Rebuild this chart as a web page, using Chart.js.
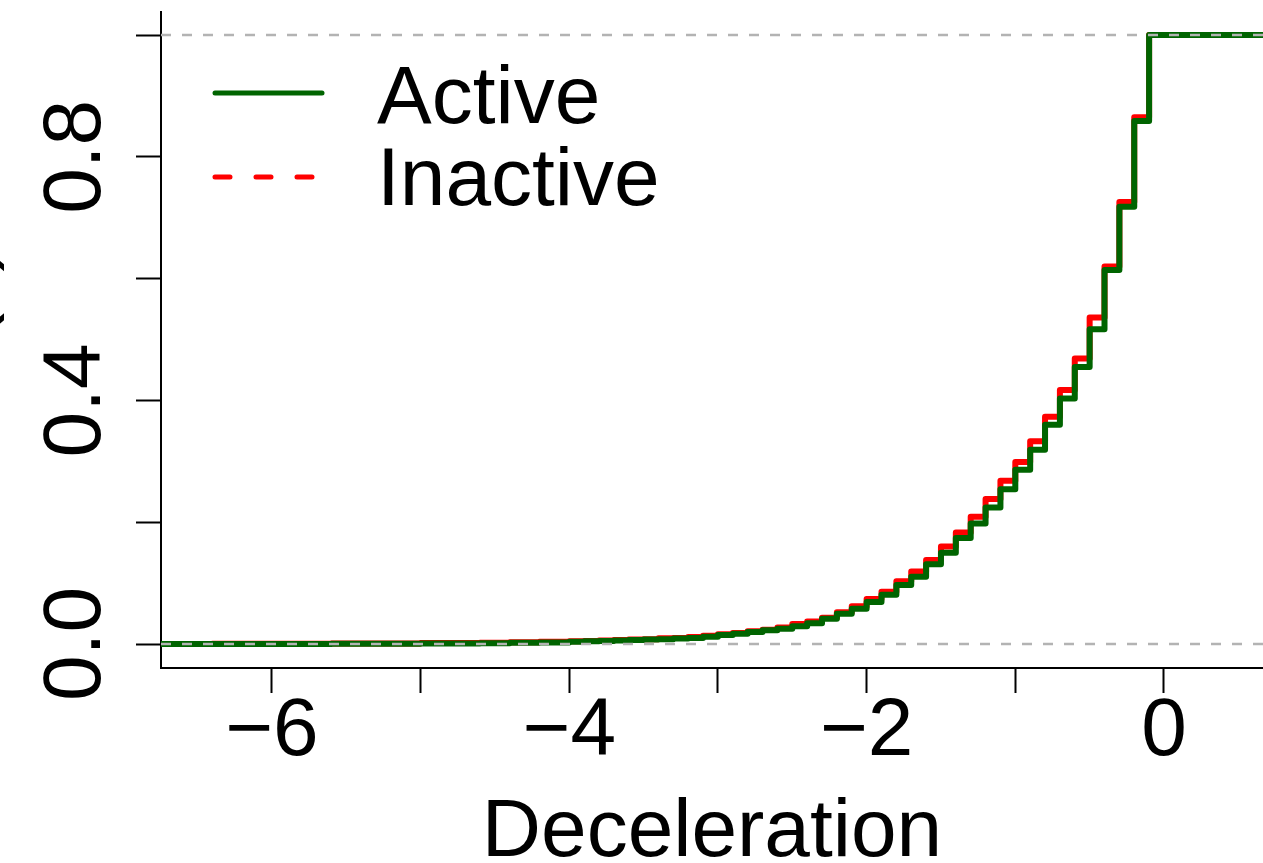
<!DOCTYPE html>
<html>
<head>
<meta charset="utf-8">
<title>ECDF of deceleration</title>
<script src="https://cdn.jsdelivr.net/npm/chart.js@4.4.1/dist/chart.umd.min.js"></script>
<style>
  html, body { margin: 0; padding: 0; background: #fff; }
</style>
</head>
<body>
<canvas id="ecdfChart" width="1263" height="863"></canvas>
<script>
// jump positions of the empirical CDFs (deceleration values)
const decelSteps = [-6.4, -5.6, -5.0, -4.6, -4.4, -4.2,
    -4.0, -3.9, -3.8, -3.7, -3.6, -3.5, -3.4, -3.3, -3.2, -3.1,
    -3.0, -2.9, -2.8, -2.7, -2.6, -2.5, -2.4, -2.3, -2.2, -2.1,
    -2.0, -1.9, -1.8, -1.7, -1.6, -1.5, -1.4, -1.3, -1.2, -1.1,
    -1.0, -0.9, -0.8, -0.7, -0.6, -0.5, -0.4, -0.3, -0.2, -0.1];

// Fn(x) right after each jump
const activeF = [0.0002, 0.0005, 0.0009, 0.0014, 0.0019, 0.0026,
    0.0038, 0.0044, 0.005, 0.0057, 0.0066, 0.0072, 0.008, 0.009, 0.010, 0.012,
    0.0148, 0.017, 0.0197, 0.0225, 0.025, 0.029, 0.034, 0.0416, 0.0497, 0.058,
    0.069, 0.081, 0.097, 0.1105, 0.131, 0.150, 0.174, 0.198, 0.224, 0.254,
    0.286, 0.319, 0.360, 0.403, 0.455, 0.517, 0.614, 0.718, 0.859, 1.0];

const inactiveF = [0.0003, 0.0008, 0.0015, 0.0022, 0.0027, 0.0035,
    0.0045, 0.005, 0.0058, 0.0066, 0.0072, 0.008, 0.0095, 0.010, 0.0115, 0.0135,
    0.016, 0.018, 0.021, 0.0235, 0.027, 0.033, 0.037, 0.043, 0.052, 0.062,
    0.074, 0.086, 0.103, 0.119, 0.138, 0.160, 0.183, 0.209, 0.238, 0.268,
    0.299, 0.333, 0.373, 0.417, 0.469, 0.536, 0.620, 0.726, 0.865, 1.0];

const xRange = [-6.746, 0.666];
const yRange = [-0.0394, 1.0378];
const xTicks = [-6, -5, -4, -3, -2, -1, 0];
const xLabeled = [-6, -4, -2, 0];
const yTicks = [0, 0.2, 0.4, 0.6, 0.8, 1];
const yLabeled = [0, 0.4, 0.8];
const refLevels = [0, 1];
const seriesNames = ['Active', 'Inactive'];

const axisFont = { family: 'Liberation Sans, Arial, sans-serif', size: 82 };
const greenCol = '#006400';
const redCol = '#ff0000';

// step function running edge to edge of the plot
function ecdfPoints(xs, fs) {
    const pts = [{ x: xRange[0], y: 0 }];
    xs.forEach((x, i) => pts.push({ x: x, y: fs[i] }));
    pts.push({ x: xRange[1], y: fs[fs.length - 1] });
    return pts;
}

function minusLabel(v) {
    return v < 0 ? '\u2212' + Math.abs(v) : String(v);
}

// fixed box sizes so the plot region sits where R put it
function fixBox(scale, key, size) {
    scale[key] = size;
    scale.paddingTop = 0;
    scale.paddingBottom = 0;
    scale.paddingLeft = 0;
    scale.paddingRight = 0;
}

const refSets = refLevels.map(lvl => ({
    label: 'ref' + lvl,
    data: [{ x: xRange[0], y: lvl }, { x: xRange[1], y: lvl }],
    borderColor: '#b3b3b3',
    borderWidth: 2.5,
    borderDash: [10, 11],
    pointRadius: 0,
    order: 0
}));

// legend drawn in the top-left corner of the plot, like R's legend()
const cornerLegend = {
    id: 'cornerLegend',
    afterDatasetsDraw(chart) {
        const ctx = chart.ctx;
        ctx.save();
        ctx.lineWidth = 5;
        ctx.lineCap = 'round';
        ctx.strokeStyle = greenCol;
        ctx.beginPath();
        ctx.moveTo(215, 93);
        ctx.lineTo(322, 93);
        ctx.stroke();
        ctx.strokeStyle = redCol;
        ctx.setLineDash([15, 26]);
        ctx.beginPath();
        ctx.moveTo(215, 177);
        ctx.lineTo(316, 177);
        ctx.stroke();
        ctx.setLineDash([]);
        ctx.fillStyle = '#000';
        ctx.font = '82px "Liberation Sans", Arial, sans-serif';
        ctx.textBaseline = 'alphabetic';
        ctx.fillText(seriesNames[0], 377, 123);
        ctx.fillText(seriesNames[1], 377, 205);
        ctx.restore();
    }
};

const ctx = document.getElementById('ecdfChart').getContext('2d');
new Chart(ctx, {
    type: 'line',
    data: {
        datasets: refSets.concat([
            {
                label: seriesNames[0],
                data: ecdfPoints(decelSteps, activeF),
                borderColor: greenCol,
                borderWidth: 6,
                stepped: 'before',
                pointRadius: 0,
                borderCapStyle: 'round',
                borderJoinStyle: 'round',
                order: 1
            },
            {
                label: seriesNames[1],
                data: ecdfPoints(decelSteps, inactiveF),
                borderColor: redCol,
                borderWidth: 6,
                stepped: 'before',
                pointRadius: 0,
                borderCapStyle: 'round',
                borderJoinStyle: 'round',
                order: 2
            }
        ])
    },
    options: {
        responsive: false,
        animation: false,
        layout: { padding: { top: 12, left: 0, right: 0, bottom: 0 } },
        plugins: {
            legend: { display: false },
            tooltip: { enabled: false }
        },
        scales: {
            x: {
                type: 'linear',
                min: xRange[0],
                max: xRange[1],
                afterBuildTicks: axis => { axis.ticks = xTicks.map(v => ({ value: v })); },
                afterFit: scale => fixBox(scale, 'height', 195),
                border: { display: true, color: '#000', width: 2 },
                grid: { drawOnChartArea: false, drawTicks: true, tickLength: 25, tickColor: '#000', tickWidth: 2 },
                ticks: {
                    autoSkip: false,
                    maxRotation: 0,
                    minRotation: 0,
                    padding: -10,
                    color: '#000',
                    font: axisFont,
                    callback: v => xLabeled.includes(v) ? minusLabel(v) : ''
                },
                title: {
                    display: true,
                    text: 'Deceleration',
                    color: '#000',
                    font: axisFont,
                    padding: { top: 0, bottom: -20 }
                }
            },
            y: {
                type: 'linear',
                min: yRange[0],
                max: yRange[1],
                afterBuildTicks: axis => { axis.ticks = yTicks.map(v => ({ value: v })); },
                afterFit: scale => fixBox(scale, 'width', 161),
                border: { display: true, color: '#000', width: 2 },
                grid: { drawOnChartArea: false, drawTicks: true, tickLength: 25, tickColor: '#000', tickWidth: 2 },
                ticks: {
                    minRotation: 90,
                    maxRotation: 90,
                    crossAlign: 'center',
                    padding: 2,
                    color: '#000',
                    font: axisFont,
                    callback: v => yLabeled.includes(v) ? v.toFixed(1) : ''
                },
                title: {
                    display: true,
                    text: 'Fn(x)',
                    color: '#000',
                    font: axisFont,
                    padding: { top: -85, bottom: 0 }
                }
            }
        }
    },
    plugins: [cornerLegend]
});
</script>
</body>
</html>
